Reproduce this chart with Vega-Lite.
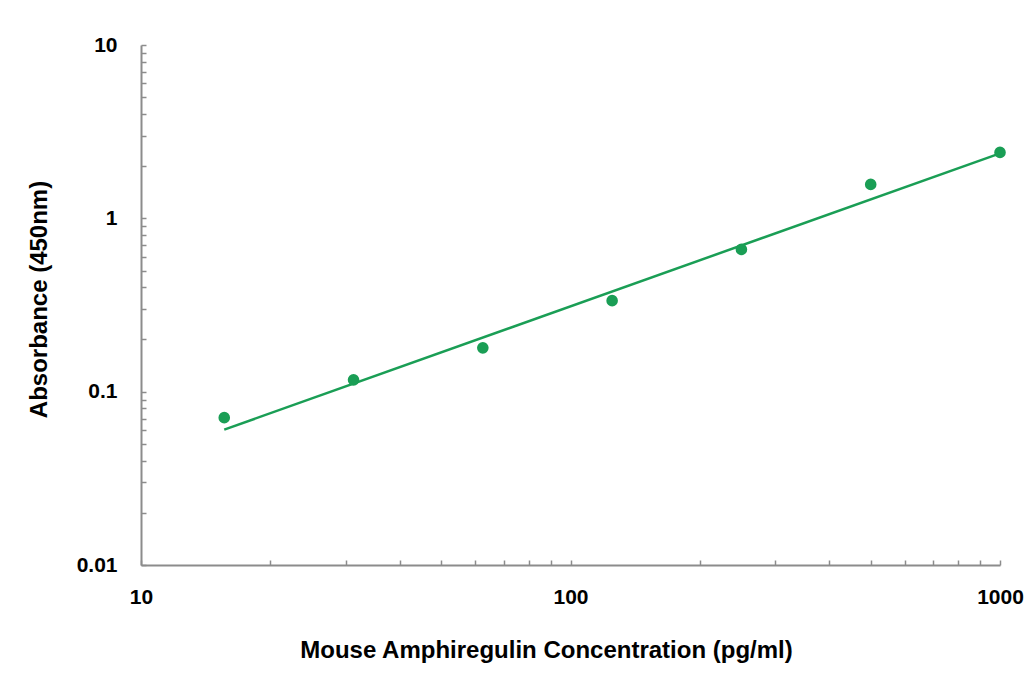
{
  "$schema": "https://vega.github.io/schema/vega-lite/v6.json",
  "autosize": {"type": "none"},
  "width": 859,
  "height": 520,
  "padding": {"left": 141, "top": 45, "right": 35, "bottom": 113},
  "background": "white",
  "config": {
    "view": {"stroke": null},
    "axis": {
      "grid": false,
      "domainColor": "#8c8c8c",
      "domainWidth": 2,
      "tickColor": "#8c8c8c",
      "tickWidth": 1.5,
      "tickSize": -5,
      "labelFont": "Liberation Sans",
      "labelFontWeight": "bold",
      "labelFontSize": 21,
      "labelColor": "black",
      "titleFont": "Liberation Sans",
      "titleFontWeight": "bold",
      "titleFontSize": 24,
      "titleColor": "black"
    }
  },
  "datasets": {
    "points": [
      {"conc": 15.625, "od": 0.0708},
      {"conc": 31.25, "od": 0.117},
      {"conc": 62.5, "od": 0.179},
      {"conc": 125, "od": 0.335},
      {"conc": 250, "od": 0.662},
      {"conc": 500, "od": 1.57},
      {"conc": 1000, "od": 2.40}
    ],
    "fit": [
      {"conc": 15.625, "od": 0.0604},
      {"conc": 1000, "od": 2.37}
    ]
  },
  "layer": [
    {
      "data": {"name": "fit"},
      "mark": {"type": "line", "color": "#1a9e55", "strokeWidth": 2.5},
      "encoding": {
        "x": {
          "field": "conc", "type": "quantitative",
          "scale": {"type": "log", "domain": [10, 1000], "nice": false},
          "axis": {
            "title": "Mouse Amphiregulin Concentration (pg/ml)",
            "values": [10, 20, 30, 40, 50, 60, 70, 80, 90, 100, 200, 300, 400, 500, 600, 700, 800, 900, 1000],
            "format": "~g",
            "labelExpr": "indexof([10,100,1000], datum.value) >= 0 ? datum.label : ''",
            "labelPadding": 26,
            "titlePadding": 31,
            "titleX": 405,
            "labelFlush": false,
            "labelOverlap": false
          }
        },
        "y": {
          "field": "od", "type": "quantitative",
          "scale": {"type": "log", "domain": [0.01, 10], "nice": false},
          "axis": {
            "title": "Absorbance (450nm)",
            "values": [0.01, 0.02, 0.03, 0.04, 0.05, 0.06, 0.07, 0.08, 0.09, 0.1, 0.2, 0.3, 0.4, 0.5, 0.6, 0.7, 0.8, 0.9, 1, 2, 3, 4, 5, 6, 7, 8, 9, 10],
            "format": "~g",
            "labelExpr": "abs(log(datum.value)/LN10 - round(log(datum.value)/LN10)) < 0.000001 ? datum.label : ''",
            "labelPadding": 29,
            "titlePadding": 25,
            "titleY": 254,
            "labelFlush": false,
            "labelOverlap": false
          }
        }
      }
    },
    {
      "data": {"name": "points"},
      "mark": {"type": "circle", "color": "#1a9e55", "opacity": 1, "size": 135},
      "encoding": {
        "x": {"field": "conc", "type": "quantitative"},
        "y": {"field": "od", "type": "quantitative"}
      }
    }
  ]
}
